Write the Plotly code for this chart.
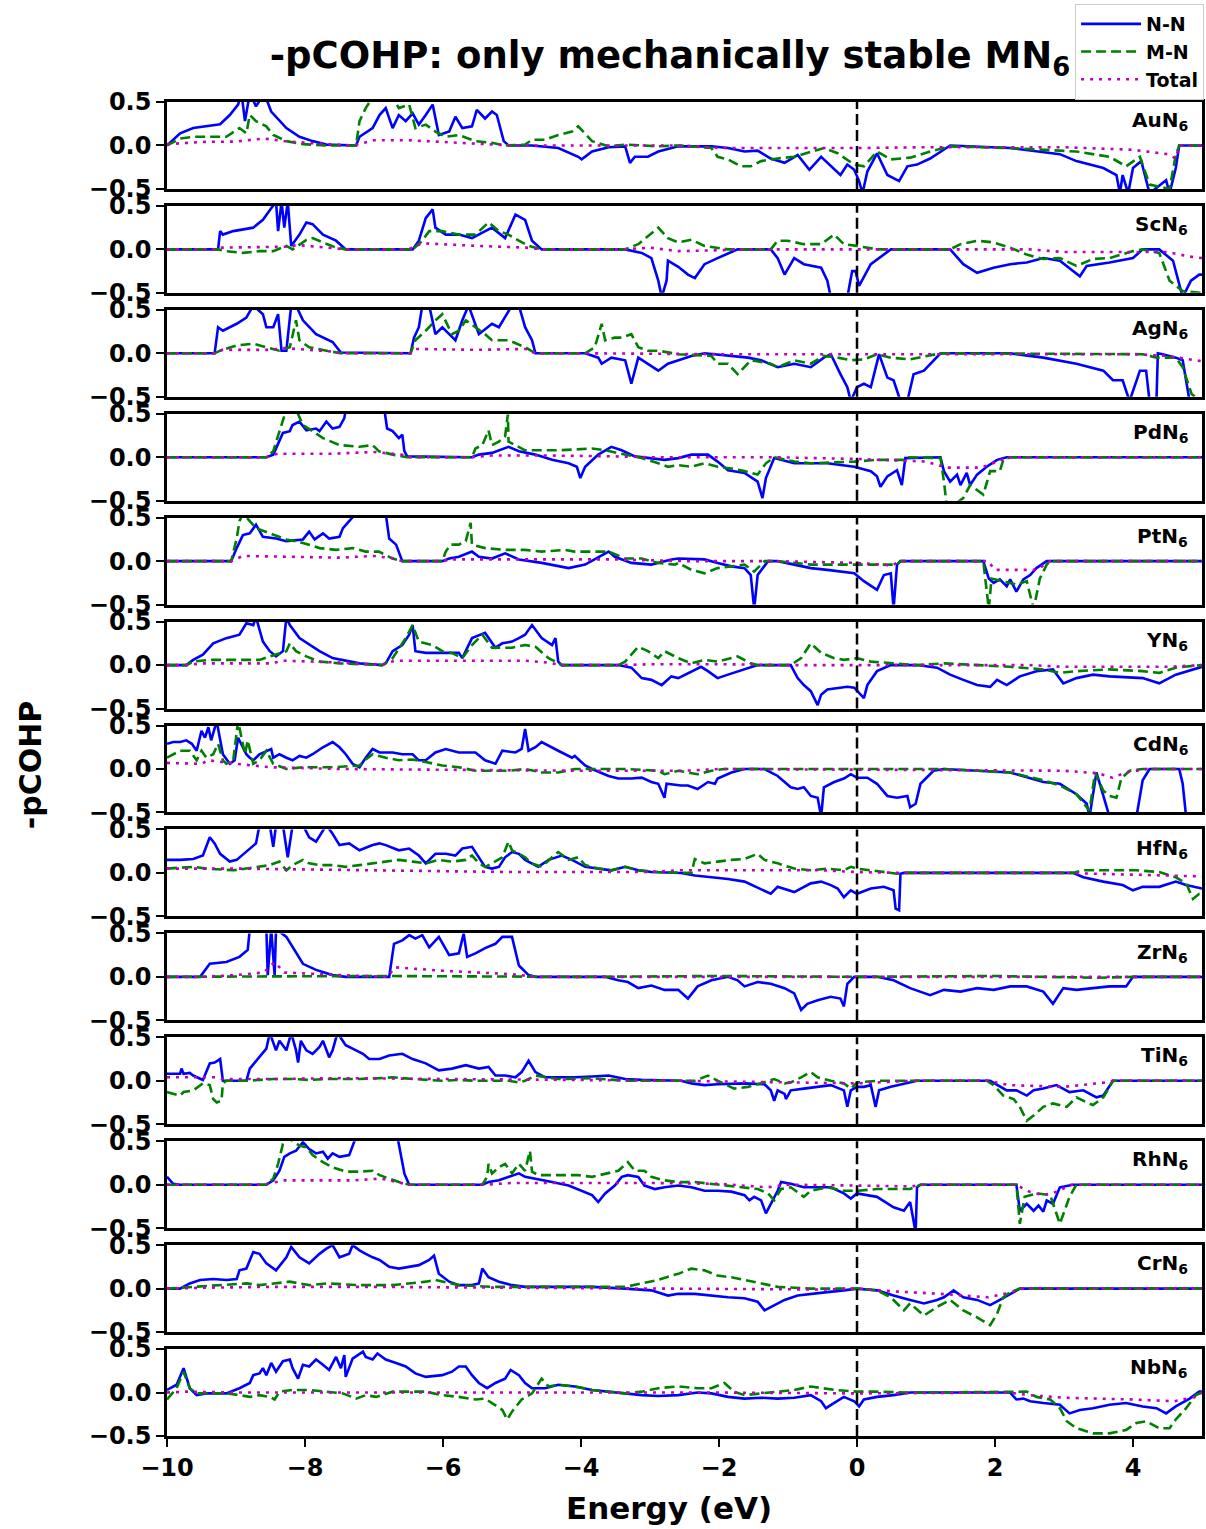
import plotly.graph_objects as go
from plotly.subplots import make_subplots

# ---------------- data: (energy eV, -pCOHP) pairs ----------------
AU_NN = [(-10,0),(-9.81,0.14),(-9.62,0.2),(-9.23,0.245),(-9.09,0.35),(-8.97,0.47),(-8.92,0.6),(-8.87,0.28),(-8.8,0.6),(-8.71,0.45),(-8.59,0.6),(-8.49,0.39),(-8.27,0.2),(-8.08,0.1),(-7.89,0.05),(-7.69,0.01),(-7.26,0),(-7.21,0.1),(-7.02,0.2),(-6.92,0.35),(-6.83,0.43),(-6.73,0.2),(-6.64,0.35),(-6.54,0.28),(-6.44,0.37),(-6.35,0.24),(-6.25,0.35),(-6.15,0.47),(-6.06,0.12),(-5.91,0.16),(-5.82,0.33),(-5.72,0.2),(-5.58,0.22),(-5.51,0.41),(-5.39,0.31),(-5.29,0.39),(-5.22,0.35),(-5.12,0.05),(-5.05,0),(-4.71,0),(-4.33,-0.03),(-4.04,-0.13),(-3.99,-0.16),(-3.84,-0.07),(-3.6,-0.02),(-3.36,-0.01),(-3.29,-0.2),(-3.22,-0.13),(-3.03,-0.13),(-2.88,-0.07),(-2.59,-0.01),(-2.11,-0.01),(-1.87,-0.03),(-1.63,-0.07),(-1.44,-0.06),(-1.25,-0.15),(-1.05,-0.2),(-0.86,-0.11),(-0.69,-0.28),(-0.52,-0.13),(-0.24,-0.34),(-0.14,-0.22),(-0.04,-0.28),(0.03,-0.41),(0.08,-0.55),(0.15,-0.3),(0.29,-0.09),(0.44,-0.34),(0.61,-0.41),(0.73,-0.24),(0.87,-0.22),(1.06,-0.15),(1.35,0),(2.22,-0.03),(2.94,-0.1),(3.18,-0.18),(3.57,-0.26),(3.76,-0.34),(3.81,-0.55),(3.85,-0.34),(3.93,-0.55),(4.0,-0.26),(4.12,-0.18),(4.24,-0.55),(4.48,-0.4),(4.53,-0.55),(4.62,-0.26),(4.67,0),(5,0)]
AU_MN = [(-10,0),(-9.81,0.08),(-9.62,0.1),(-9.14,0.1),(-8.95,0.2),(-8.85,0.14),(-8.8,0.35),(-8.71,0.28),(-8.56,0.22),(-8.46,0.12),(-8.27,0.05),(-8.03,0.015),(-7.69,0),(-7.26,0),(-7.21,0.28),(-7.12,0.43),(-7.02,0.55),(-6.73,0.55),(-6.64,0.43),(-6.49,0.47),(-6.4,0.2),(-6.25,0.24),(-6.11,0.16),(-5.96,0.1),(-5.77,0.12),(-5.53,0.05),(-5.29,0.03),(-5.1,0),(-4.81,0.01),(-4.71,0.065),(-4.52,0.065),(-4.33,0.12),(-4.13,0.16),(-4.04,0.22),(-3.84,0.05),(-3.6,-0.01),(-3.36,0.01),(-2.88,-0.01),(-2.59,0),(-2.11,-0.03),(-2.02,-0.13),(-1.87,-0.16),(-1.68,-0.24),(-1.54,-0.24),(-1.39,-0.18),(-1.15,-0.15),(-0.91,-0.13),(-0.67,-0.07),(-0.48,-0.03),(-0.28,-0.09),(-0.04,-0.22),(0.1,-0.24),(0.29,-0.07),(0.49,-0.16),(0.77,-0.14),(1.06,-0.07),(1.35,-0.01),(2.22,-0.03),(3.18,-0.07),(3.66,-0.13),(3.9,-0.24),(4.1,-0.13),(4.24,-0.45),(4.53,-0.5),(4.62,-0.11),(4.67,0),(5,0)]
AU_TOT = [(-10,0.015),(-9.5,0.04),(-9.0,0.045),(-8.6,0.08),(-8.3,0.05),(-7.8,0.02),(-7.3,0),(-7.0,0.06),(-6.5,0.06),(-6.0,0.04),(-5.5,0.02),(-5.0,0),(-2.5,0),(-2.0,-0.03),(-0.5,-0.03),(0,-0.03),(1.0,-0.02),(3.0,-0.02),(4.0,-0.05),(4.5,-0.1),(4.62,-0.15),(4.67,0),(5,0)]

SC_NN = [(-10,0),(-9.26,0),(-9.23,0.21),(-9.19,0.17),(-9.04,0.21),(-8.75,0.25),(-8.61,0.34),(-8.51,0.46),(-8.42,0.55),(-8.39,0.21),(-8.34,0.55),(-8.3,0.25),(-8.25,0.55),(-8.2,0.04),(-8.08,0.17),(-7.98,0.31),(-7.89,0.29),(-7.74,0.17),(-7.55,0.1),(-7.41,0),(-6.44,0),(-6.35,0.1),(-6.25,0.36),(-6.15,0.46),(-6.11,0.25),(-5.96,0.17),(-5.77,0.17),(-5.58,0.13),(-5.43,0.19),(-5.29,0.25),(-5.1,0.13),(-4.95,0.4),(-4.81,0.34),(-4.71,0.1),(-4.57,0),(-3.36,0),(-3.12,-0.04),(-2.98,-0.1),(-2.88,-0.36),(-2.83,-0.55),(-2.76,-0.36),(-2.74,-0.13),(-2.59,-0.2),(-2.45,-0.29),(-2.35,-0.33),(-2.21,-0.17),(-2.02,-0.1),(-1.73,0),(-1.25,0),(-1.15,-0.1),(-1.05,-0.29),(-0.91,-0.1),(-0.77,-0.17),(-0.52,-0.21),(-0.43,-0.36),(-0.38,-0.55),(-0.14,-0.55),(-0.07,-0.25),(-0.02,-0.25),(0.03,-0.42),(0.2,-0.17),(0.49,0),(1.35,0),(1.54,-0.17),(1.74,-0.27),(1.98,-0.21),(2.22,-0.17),(2.46,-0.15),(2.7,-0.1),(2.94,-0.13),(3.23,-0.31),(3.33,-0.19),(3.66,-0.15),(4.0,-0.1),(4.14,0),(4.38,0),(4.58,-0.13),(4.72,-0.55),(4.84,-0.36),(4.96,-0.29),(5,-0.29)]
SC_MN = [(-10,0),(-9.26,0),(-9.14,-0.02),(-8.9,-0.04),(-8.66,-0.02),(-8.46,-0.02),(-8.27,0.04),(-8.18,0),(-7.98,0.11),(-7.89,0.13),(-7.74,0.08),(-7.55,0.02),(-7.41,0),(-6.44,0),(-6.3,0.1),(-6.2,0.21),(-6.01,0.21),(-5.77,0.17),(-5.53,0.17),(-5.34,0.31),(-5.19,0.21),(-5.05,0.17),(-4.9,0.1),(-4.76,0.04),(-4.57,0),(-3.36,0),(-3.17,0.06),(-2.88,0.25),(-2.74,0.13),(-2.59,0.08),(-2.4,0.11),(-2.21,0.04),(-1.87,0),(-1.25,0),(-1.15,0.1),(-1.01,0.1),(-0.77,0.06),(-0.52,0.06),(-0.33,0.17),(-0.19,0.06),(0,0.04),(0.29,0),(1.35,0),(1.5,0.06),(1.74,0.1),(1.98,0.08),(2.22,0.02),(2.46,-0.06),(2.7,-0.11),(2.94,-0.1),(3.18,-0.19),(3.42,-0.11),(3.66,-0.1),(4.0,-0.02),(4.14,0),(4.38,-0.04),(4.53,-0.36),(4.62,-0.42),(4.72,-0.48),(5,-0.5)]
SC_TOT = [(-10,0),(-9.3,0),(-9.2,0.02),(-8.3,0.03),(-8.1,0.05),(-7.5,0.01),(-7.4,0),(-6.5,0),(-6.3,0.07),(-5.5,0.04),(-4.8,0.02),(-4.57,0),(-3.4,0),(-3.0,0.02),(-2.6,-0.02),(-2.0,-0.01),(-1.7,0),(2.5,0),(3.0,-0.03),(4.5,-0.03),(4.8,-0.08),(5,-0.1)]

AG_NN = [(-10,0),(-9.31,0),(-9.26,0.3),(-9.19,0.26),(-8.99,0.34),(-8.85,0.41),(-8.75,0.55),(-8.61,0.45),(-8.56,0.3),(-8.46,0.3),(-8.39,0.45),(-8.34,0.03),(-8.27,0.03),(-8.2,0.55),(-8.13,0.55),(-8.03,0.38),(-7.84,0.22),(-7.6,0.13),(-7.48,0.01),(-6.47,0),(-6.42,0.18),(-6.35,0.3),(-6.3,0.55),(-6.2,0.55),(-6.11,0.22),(-6.01,0.3),(-5.91,0.22),(-5.82,0.15),(-5.72,0.38),(-5.63,0.55),(-5.48,0.22),(-5.29,0.34),(-5.19,0.3),(-5.0,0.55),(-4.9,0.55),(-4.81,0.3),(-4.71,0.15),(-4.66,0),(-3.94,0),(-3.75,-0.05),(-3.7,-0.12),(-3.56,-0.05),(-3.36,-0.08),(-3.27,-0.35),(-3.17,-0.05),(-3.03,-0.12),(-2.88,-0.2),(-2.74,-0.12),(-2.59,-0.08),(-2.4,-0.03),(-2.21,0),(-1.87,-0.03),(-1.58,-0.05),(-1.39,-0.08),(-1.15,-0.16),(-0.91,-0.12),(-0.67,-0.16),(-0.48,-0.05),(-0.38,-0.01),(-0.24,-0.24),(-0.14,-0.39),(-0.09,-0.55),(0,-0.39),(0.1,-0.35),(0.2,-0.39),(0.32,-0.01),(0.44,-0.28),(0.53,-0.31),(0.63,-0.55),(0.73,-0.55),(0.82,-0.24),(0.97,-0.2),(1.21,0),(2.22,0),(2.7,-0.05),(3.18,-0.12),(3.57,-0.2),(3.71,-0.31),(3.85,-0.31),(3.95,-0.55),(4.1,-0.2),(4.19,-0.2),(4.24,-0.55),(4.34,-0.55),(4.36,0),(4.43,-0.01),(4.62,-0.05),(4.72,-0.08),(4.82,-0.55),(5,-0.55)]
AG_MN = [(-10,0),(-9.31,0),(-9.23,0.03),(-8.99,0.09),(-8.75,0.11),(-8.56,0.07),(-8.37,0.03),(-8.22,0.07),(-8.13,0.38),(-8.08,0.15),(-7.94,0.07),(-7.69,0.03),(-7.48,0),(-6.47,0),(-6.4,0.15),(-6.25,0.26),(-6.11,0.38),(-6.01,0.45),(-5.87,0.22),(-5.77,0.26),(-5.67,0.38),(-5.53,0.3),(-5.39,0.22),(-5.29,0.15),(-5.05,0.15),(-4.81,0.07),(-4.66,0),(-3.94,0),(-3.8,0.07),(-3.7,0.34),(-3.65,0.15),(-3.51,0.18),(-3.41,0.18),(-3.27,0.22),(-3.17,0.07),(-3.03,0.03),(-2.88,0.03),(-2.59,-0.01),(-2.11,-0.03),(-2.02,-0.12),(-1.87,-0.12),(-1.73,-0.24),(-1.63,-0.16),(-1.54,-0.08),(-1.25,-0.12),(-1.15,-0.16),(-0.91,-0.08),(-0.67,-0.12),(-0.48,-0.03),(-0.28,-0.05),(-0.09,-0.08),(0.1,-0.07),(0.29,-0.01),(0.49,-0.05),(0.77,-0.07),(1.21,0),(4.14,-0.01),(4.34,-0.05),(4.62,-0.05),(4.72,-0.16),(4.85,-0.47),(5,-0.55)]
AG_TOT = [(-10,0),(-9.3,0),(-9.2,0.04),(-8.5,0.04),(-8.3,0.06),(-7.6,0.02),(-7.48,0),(-6.47,0),(-6.4,0.05),(-5.5,0.04),(-4.8,0.05),(-4.66,0),(-3.9,0),(-2.0,-0.01),(4.0,-0.01),(4.5,-0.03),(4.9,-0.08),(5,-0.09)]

PD_NN = [(-10,0),(-8.56,0),(-8.46,0.03),(-8.32,0.28),(-8.22,0.3),(-8.18,0.37),(-8.08,0.41),(-7.98,0.31),(-7.84,0.33),(-7.79,0.3),(-7.69,0.41),(-7.6,0.33),(-7.5,0.35),(-7.43,0.45),(-7.41,0.55),(-6.85,0.55),(-6.81,0.33),(-6.73,0.3),(-6.64,0.22),(-6.59,0.26),(-6.56,0.07),(-6.52,0.01),(-5.58,0),(-5.48,0.03),(-5.29,0.05),(-5.05,0.12),(-4.9,0.07),(-4.66,0.03),(-4.42,-0.03),(-4.18,-0.07),(-4.06,-0.11),(-4.01,-0.24),(-3.94,-0.11),(-3.75,0.03),(-3.56,0.12),(-3.41,0.08),(-3.22,0.01),(-3.03,-0.01),(-2.79,-0.03),(-2.59,-0.01),(-2.4,0.03),(-2.16,0.03),(-2.02,-0.05),(-1.87,-0.15),(-1.63,-0.18),(-1.44,-0.28),(-1.37,-0.47),(-1.32,-0.24),(-1.2,-0.01),(-0.91,-0.07),(-0.43,-0.07),(-0.04,-0.11),(0.2,-0.16),(0.29,-0.22),(0.34,-0.34),(0.44,-0.22),(0.58,-0.15),(0.65,-0.32),(0.7,-0.01),(1.21,0),(1.26,-0.16),(1.35,-0.28),(1.45,-0.2),(1.5,-0.32),(1.59,-0.18),(1.64,-0.32),(1.74,-0.2),(1.88,-0.11),(2.03,-0.03),(2.17,0),(5,0)]
PD_MN = [(-10,0),(-8.56,0),(-8.46,0.07),(-8.39,0.26),(-8.32,0.45),(-8.27,0.55),(-8.13,0.55),(-8.03,0.37),(-7.89,0.3),(-7.74,0.22),(-7.5,0.14),(-7.21,0.12),(-7.02,0.14),(-6.93,0.07),(-6.73,0.03),(-6.52,0),(-5.58,0),(-5.53,0.1),(-5.43,0.14),(-5.34,0.31),(-5.29,0.14),(-5.19,0.18),(-5.1,0.24),(-5.06,0.49),(-5.05,0.18),(-4.95,0.14),(-4.81,0.08),(-4.33,0.08),(-3.84,0.1),(-3.65,0.08),(-3.36,0.03),(-3.12,-0.01),(-2.88,-0.07),(-2.74,-0.11),(-2.59,-0.09),(-2.4,-0.11),(-2.21,-0.07),(-2.02,-0.11),(-1.82,-0.13),(-1.63,-0.16),(-1.44,-0.2),(-1.32,-0.07),(-1.2,0),(-0.91,-0.05),(-0.67,-0.07),(-0.04,-0.05),(0.29,-0.03),(0.68,-0.03),(0.73,0),(1.21,-0.01),(1.26,-0.28),(1.3,-0.55),(1.4,-0.55),(1.54,-0.47),(1.64,-0.32),(1.83,-0.43),(1.93,-0.16),(2.07,-0.16),(2.12,-0.03),(2.22,0),(5,0)]
PD_TOT = [(-10,0),(-8.56,0),(-8.4,0.04),(-7.6,0.04),(-7.0,0.06),(-6.6,0.03),(-6.5,0),(-5.6,0),(-5.3,0.02),(-4.5,0.02),(-3.5,0.01),(-3.0,0),(-1.2,0),(0,-0.02),(1.0,-0.05),(1.3,-0.12),(1.8,-0.12),(2.2,0),(5,0)]

PT_NN = [(-10,0),(-9.07,0),(-8.99,0.15),(-8.9,0.3),(-8.8,0.32),(-8.71,0.42),(-8.61,0.28),(-8.42,0.26),(-8.27,0.23),(-8.03,0.25),(-7.94,0.34),(-7.86,0.25),(-7.74,0.32),(-7.65,0.26),(-7.5,0.28),(-7.45,0.38),(-7.36,0.46),(-7.26,0.55),(-6.83,0.55),(-6.78,0.26),(-6.68,0.19),(-6.59,0),(-6.01,0),(-5.91,0.03),(-5.77,0.05),(-5.58,0.11),(-5.48,0.05),(-5.29,0.03),(-5.1,0.09),(-4.9,0.02),(-4.57,-0.02),(-4.18,-0.08),(-3.94,-0.04),(-3.6,0.11),(-3.51,0.05),(-3.27,-0.02),(-2.98,-0.04),(-2.69,0.02),(-2.59,0.03),(-2.21,0.02),(-2.02,-0.02),(-1.82,-0.06),(-1.63,-0.08),(-1.54,-0.16),(-1.49,-0.55),(-1.44,-0.16),(-1.29,0),(-1.15,0),(-0.91,-0.04),(-0.67,-0.08),(-0.43,-0.1),(-0.04,-0.14),(0.1,-0.23),(0.29,-0.33),(0.39,-0.16),(0.49,-0.14),(0.53,-0.55),(0.58,-0.04),(0.63,0),(1.83,0),(1.91,-0.2),(1.98,-0.25),(2.07,-0.21),(2.17,-0.29),(2.22,-0.21),(2.31,-0.35),(2.41,-0.21),(2.51,-0.16),(2.6,-0.08),(2.75,0),(5,0)]
PT_MN = [(-10,0),(-9.07,0),(-8.99,0.26),(-8.95,0.46),(-8.9,0.55),(-8.71,0.38),(-8.51,0.32),(-8.27,0.25),(-8.03,0.21),(-7.79,0.15),(-7.55,0.13),(-7.31,0.15),(-7.12,0.11),(-6.93,0.11),(-6.73,0.03),(-6.59,0),(-6.01,0),(-5.96,0.11),(-5.89,0.19),(-5.77,0.19),(-5.67,0.23),(-5.6,0.44),(-5.58,0.19),(-5.39,0.15),(-5.1,0.13),(-4.81,0.13),(-4.57,0.11),(-4.23,0.13),(-4.09,0.11),(-3.84,0.11),(-3.6,0.11),(-3.36,0.03),(-3.12,0.03),(-2.88,-0.02),(-2.64,-0.04),(-2.59,-0.02),(-2.4,-0.1),(-2.21,-0.14),(-2.02,-0.08),(-1.82,-0.06),(-1.63,-0.04),(-1.49,-0.12),(-1.34,0),(-1.15,0),(-0.67,-0.04),(0.58,-0.04),(0.63,0),(1.83,0),(1.91,-0.55),(1.95,-0.2),(2.12,-0.23),(2.31,-0.27),(2.46,-0.23),(2.56,-0.55),(2.65,-0.2),(2.75,-0.04),(2.8,0),(5,0)]
PT_TOT = [(-10,0),(-9.07,0),(-8.9,0.06),(-8.0,0.05),(-7.5,0.04),(-7.0,0.06),(-6.7,0.03),(-6.59,0),(-6.0,0),(-5.9,0.02),(-3.5,0.02),(-2.5,0),(-1.2,0),(0,-0.02),(0.5,-0.05),(0.63,0),(1.9,0),(2.0,-0.1),(2.6,-0.1),(2.8,0),(5,0)]

Y_NN = [(-10,0),(-9.72,0),(-9.62,0.06),(-9.48,0.12),(-9.33,0.25),(-9.14,0.31),(-8.95,0.35),(-8.85,0.48),(-8.75,0.46),(-8.71,0.55),(-8.61,0.27),(-8.51,0.16),(-8.42,0.1),(-8.32,0.16),(-8.27,0.55),(-8.22,0.46),(-8.08,0.31),(-7.79,0.16),(-7.6,0.08),(-7.21,0.02),(-6.88,0),(-6.83,0.02),(-6.73,0.16),(-6.59,0.23),(-6.49,0.35),(-6.44,0.46),(-6.4,0.16),(-6.25,0.14),(-5.96,0.14),(-5.77,0.14),(-5.72,0.08),(-5.58,0.31),(-5.39,0.37),(-5.24,0.2),(-5.14,0.25),(-5.0,0.27),(-4.9,0.31),(-4.81,0.35),(-4.71,0.46),(-4.57,0.31),(-4.42,0.23),(-4.37,0.31),(-4.33,0.04),(-4.28,0),(-3.46,0),(-3.27,-0.03),(-3.12,-0.15),(-2.98,-0.17),(-2.83,-0.23),(-2.69,-0.13),(-2.59,-0.15),(-2.4,-0.07),(-2.26,-0.02),(-2.16,-0.07),(-2.02,-0.15),(-1.87,-0.11),(-1.63,-0.05),(-1.44,0),(-0.96,0),(-0.86,-0.15),(-0.77,-0.23),(-0.67,-0.3),(-0.57,-0.46),(-0.52,-0.34),(-0.43,-0.28),(-0.28,-0.26),(-0.14,-0.25),(-0.04,-0.26),(0.1,-0.38),(0.15,-0.23),(0.29,-0.07),(0.49,0),(0.87,0),(1.16,-0.03),(1.35,-0.11),(1.54,-0.17),(1.74,-0.23),(1.93,-0.25),(2.03,-0.17),(2.17,-0.23),(2.36,-0.13),(2.6,-0.07),(2.84,-0.05),(2.99,-0.21),(3.18,-0.15),(3.42,-0.11),(3.66,-0.13),(4.14,-0.15),(4.38,-0.21),(4.62,-0.11),(4.96,-0.03),(5,-0.02)]
Y_MN = [(-10,0),(-9.72,0),(-9.62,0.04),(-9.38,0.06),(-8.66,0.06),(-8.27,0.16),(-8.22,0.25),(-8.13,0.16),(-7.98,0.1),(-7.79,0.04),(-7.5,0.02),(-7.21,0.01),(-6.88,0),(-6.73,0.08),(-6.54,0.31),(-6.44,0.46),(-6.35,0.27),(-6.15,0.23),(-6.01,0.16),(-5.87,0.14),(-5.72,0.08),(-5.58,0.23),(-5.43,0.35),(-5.29,0.2),(-5.0,0.2),(-4.81,0.23),(-4.66,0.21),(-4.47,0.08),(-4.33,0.02),(-4.28,0),(-3.46,0),(-3.36,0.04),(-3.17,0.21),(-3.03,0.16),(-2.88,0.08),(-2.79,0.16),(-2.59,0.08),(-2.4,0.02),(-2.21,0.06),(-2.02,0.04),(-1.73,0.1),(-1.54,0.02),(-1.44,0),(-0.96,0),(-0.81,0.08),(-0.67,0.25),(-0.52,0.14),(-0.33,0.08),(-0.19,0.06),(0,0.08),(0.2,0.04),(0.49,0.02),(0.87,0),(1.26,0.02),(1.74,0),(2.22,-0.02),(2.7,-0.05),(2.94,-0.09),(3.18,-0.07),(3.66,-0.05),(4.14,-0.07),(4.38,-0.09),(4.62,-0.03),(5,0)]
Y_TOT = [(-10,0),(-9.7,0),(-9.5,0.02),(-8.5,0.02),(-8.3,0.05),(-7.5,0.03),(-6.9,0),(-6.7,0.05),(-4.8,0.05),(-4.5,0.03),(-4.28,0),(-3.4,0),(-3.0,0.01),(-2.0,0.01),(-1.0,0),(2.5,0),(3.0,-0.02),(4.5,-0.02),(5,0)]

CD_NN = [(-10,0.29),(-9.91,0.31),(-9.81,0.31),(-9.72,0.33),(-9.64,0.29),(-9.57,0.21),(-9.5,0.44),(-9.45,0.36),(-9.4,0.48),(-9.36,0.33),(-9.28,0.55),(-9.23,0.36),(-9.19,0.17),(-9.09,0.06),(-9.02,0.1),(-8.97,0.36),(-8.9,0.25),(-8.85,0.17),(-8.8,0.13),(-8.75,0.1),(-8.66,0.17),(-8.56,0.21),(-8.49,0.23),(-8.46,0.13),(-8.37,0.17),(-8.27,0.13),(-8.18,0.1),(-8.08,0.15),(-7.98,0.13),(-7.89,0.17),(-7.74,0.25),(-7.6,0.31),(-7.5,0.25),(-7.41,0.17),(-7.31,0.06),(-7.21,0.02),(-7.12,0.13),(-7.02,0.23),(-6.92,0.19),(-6.73,0.19),(-6.59,0.17),(-6.44,0.17),(-6.35,0.1),(-6.25,0.1),(-6.11,0.19),(-5.96,0.23),(-5.77,0.19),(-5.53,0.19),(-5.39,0.1),(-5.24,0.06),(-5.14,0.21),(-4.95,0.19),(-4.86,0.23),(-4.81,0.46),(-4.76,0.21),(-4.66,0.25),(-4.57,0.31),(-4.33,0.21),(-4.13,0.13),(-4.09,0.15),(-3.94,0.04),(-3.84,0),(-3.6,-0.08),(-3.46,-0.11),(-3.27,-0.11),(-3.12,-0.1),(-2.98,-0.15),(-2.88,-0.17),(-2.79,-0.33),(-2.76,-0.17),(-2.55,-0.19),(-2.45,-0.19),(-2.31,-0.23),(-2.16,-0.15),(-2.06,-0.17),(-2.02,-0.11),(-1.82,-0.04),(-1.63,0),(-1.34,0),(-1.15,-0.08),(-0.96,-0.21),(-0.86,-0.23),(-0.77,-0.21),(-0.67,-0.31),(-0.57,-0.33),(-0.52,-0.55),(-0.48,-0.21),(-0.33,-0.15),(-0.19,-0.11),(-0.09,-0.06),(0,-0.1),(0.15,-0.1),(0.29,-0.17),(0.44,-0.31),(0.58,-0.33),(0.73,-0.31),(0.77,-0.44),(0.85,-0.4),(0.92,-0.17),(1.11,-0.02),(1.26,0),(2.22,-0.04),(2.7,-0.15),(2.94,-0.17),(3.18,-0.29),(3.33,-0.4),(3.37,-0.55),(3.47,-0.04),(3.61,-0.4),(3.66,-0.55),(4.05,-0.55),(4.14,-0.13),(4.24,0),(4.67,0),(4.72,-0.17),(4.77,-0.55),(5,-0.55)]
CD_MN = [(-10,0.13),(-9.81,0.21),(-9.67,0.21),(-9.57,0.1),(-9.5,0.21),(-9.43,0.13),(-9.33,0.17),(-9.26,0.29),(-9.19,0.1),(-9.14,0.06),(-9.04,0.1),(-8.97,0.55),(-8.92,0.36),(-8.87,0.17),(-8.83,0.33),(-8.75,0.06),(-8.66,0.1),(-8.56,0.21),(-8.46,0.06),(-8.27,0),(-8.03,0.02),(-7.6,0.02),(-7.21,0.04),(-7.12,0.11),(-7.02,0.17),(-6.83,0.13),(-6.64,0.1),(-6.44,0.11),(-6.25,0.08),(-6.01,0.04),(-5.77,0.02),(-5.53,-0.02),(-5.05,-0.02),(-4.81,0),(-4.57,-0.04),(-4.33,-0.04),(-4.09,0),(-3.36,0),(-2.88,-0.02),(-2.79,-0.06),(-2.59,-0.02),(-2.31,-0.06),(-2.11,-0.02),(-1.92,0),(0,0),(1.26,0),(2.22,-0.04),(2.7,-0.13),(2.94,-0.19),(3.18,-0.29),(3.37,-0.48),(3.45,-0.04),(3.57,-0.25),(3.66,-0.31),(3.76,-0.33),(3.83,-0.11),(3.95,-0.02),(4.14,0),(5,0)]
CD_TOT = [(-10,0.07),(-9.5,0.06),(-9.4,0.1),(-9.0,0.06),(-8.5,0.02),(-7.5,0),(-4.0,-0.02),(-2.5,-0.02),(-2.0,0),(3.0,-0.02),(3.5,-0.05),(3.7,-0.1),(3.9,-0.04),(4.2,0),(5,0)]

HF_NN = [(-10,0.15),(-9.81,0.15),(-9.62,0.16),(-9.48,0.2),(-9.38,0.41),(-9.31,0.34),(-9.23,0.22),(-9.09,0.13),(-8.99,0.15),(-8.85,0.24),(-8.71,0.34),(-8.66,0.55),(-8.51,0.55),(-8.46,0.3),(-8.42,0.55),(-8.32,0.55),(-8.25,0.18),(-8.18,0.55),(-8.03,0.55),(-7.94,0.41),(-7.84,0.36),(-7.69,0.55),(-7.6,0.45),(-7.5,0.32),(-7.36,0.34),(-7.21,0.26),(-7.02,0.32),(-6.92,0.34),(-6.83,0.32),(-6.64,0.26),(-6.49,0.28),(-6.35,0.2),(-6.25,0.11),(-6.11,0.22),(-5.96,0.22),(-5.82,0.2),(-5.72,0.28),(-5.58,0.3),(-5.39,0.07),(-5.29,0.05),(-5.19,0.07),(-5.1,0.18),(-5.0,0.24),(-4.9,0.22),(-4.81,0.15),(-4.62,0.07),(-4.47,0.15),(-4.28,0.2),(-4.13,0.15),(-3.94,0.07),(-3.75,0.05),(-3.56,0.03),(-3.36,0.07),(-3.17,0.03),(-2.98,0.01),(-2.55,0),(-2.35,-0.03),(-2.11,-0.05),(-1.87,-0.07),(-1.63,-0.1),(-1.34,-0.2),(-1.25,-0.24),(-1.15,-0.16),(-0.91,-0.22),(-0.67,-0.12),(-0.52,-0.1),(-0.38,-0.14),(-0.28,-0.18),(-0.19,-0.28),(-0.09,-0.2),(0,-0.24),(0.2,-0.18),(0.39,-0.16),(0.53,-0.2),(0.56,-0.41),(0.61,-0.43),(0.63,-0.01),(0.68,0),(3.13,0),(3.28,-0.05),(3.57,-0.1),(3.85,-0.14),(4.0,-0.2),(4.14,-0.16),(4.38,-0.16),(4.62,-0.1),(4.77,-0.14),(4.96,-0.18),(5,-0.18)]
HF_MN = [(-10,0.05),(-9.62,0.07),(-9.43,0.05),(-9.04,0.03),(-8.85,0.05),(-8.66,0.07),(-8.51,0.09),(-8.37,0.13),(-8.27,0.03),(-8.18,0.09),(-8.03,0.15),(-7.94,0.11),(-7.79,0.09),(-7.6,0.09),(-7.41,0.07),(-7.21,0.09),(-7.02,0.11),(-6.83,0.13),(-6.64,0.15),(-6.44,0.13),(-6.25,0.11),(-6.06,0.15),(-5.87,0.13),(-5.67,0.15),(-5.58,0.2),(-5.48,0.11),(-5.39,0.07),(-5.29,0.11),(-5.14,0.18),(-5.05,0.36),(-5.0,0.26),(-4.9,0.22),(-4.81,0.18),(-4.71,0.11),(-4.57,0.07),(-4.42,0.18),(-4.33,0.24),(-4.18,0.15),(-4.04,0.18),(-3.94,0.09),(-3.75,0.05),(-3.56,0.03),(-3.36,0.07),(-3.17,0.03),(-2.88,0.01),(-2.55,0),(-2.4,0),(-2.35,0.16),(-2.21,0.11),(-2.02,0.13),(-1.82,0.15),(-1.63,0.16),(-1.44,0.22),(-1.34,0.15),(-1.15,0.11),(-0.91,0.05),(-0.67,0.03),(-0.43,0.05),(-0.19,0.03),(-0.09,0.07),(0,0.05),(0.2,0.03),(0.39,0.01),(0.58,-0.01),(0.68,0),(3.13,0),(3.28,0.03),(4.05,0.03),(4.38,0.01),(4.62,-0.05),(4.77,-0.12),(4.87,-0.3),(4.96,-0.24),(5,-0.24)]
HF_TOT = [(-10,0.05),(-9.0,0.05),(-8.0,0.04),(-7.0,0.03),(-6.0,0.02),(-5.0,0.01),(-3.0,0.01),(-2.6,0.03),(-0.5,0.03),(0,0.01),(0.68,0),(3.0,0),(4.0,-0.02),(5,-0.04)]

ZR_NN = [(-10,0),(-9.52,0),(-9.38,0.15),(-9.14,0.17),(-8.95,0.23),(-8.83,0.31),(-8.8,0.55),(-8.56,0.55),(-8.54,0.02),(-8.49,0.55),(-8.44,0.02),(-8.42,0.55),(-8.27,0.46),(-8.18,0.34),(-8.03,0.15),(-7.84,0.08),(-7.6,0.02),(-7.41,0),(-6.78,0),(-6.71,0.38),(-6.59,0.42),(-6.49,0.48),(-6.4,0.44),(-6.3,0.48),(-6.2,0.34),(-6.06,0.46),(-5.91,0.25),(-5.77,0.27),(-5.7,0.5),(-5.65,0.23),(-5.53,0.27),(-5.39,0.33),(-5.24,0.38),(-5.14,0.46),(-5.0,0.46),(-4.9,0.13),(-4.76,0.02),(-4.66,0),(-3.65,0),(-3.46,-0.04),(-3.32,-0.06),(-3.17,-0.13),(-2.98,-0.1),(-2.79,-0.15),(-2.59,-0.15),(-2.45,-0.25),(-2.31,-0.11),(-2.11,-0.04),(-1.87,0),(-1.73,-0.04),(-1.63,-0.11),(-1.44,-0.06),(-1.25,-0.08),(-1.05,-0.13),(-0.91,-0.19),(-0.81,-0.38),(-0.72,-0.31),(-0.57,-0.27),(-0.38,-0.23),(-0.24,-0.25),(-0.19,-0.34),(-0.14,-0.08),(-0.04,0),(0.29,0),(0.53,-0.04),(0.77,-0.13),(1.06,-0.21),(1.26,-0.15),(1.5,-0.17),(1.74,-0.13),(1.98,-0.15),(2.22,-0.11),(2.46,-0.11),(2.7,-0.17),(2.84,-0.31),(2.99,-0.13),(3.18,-0.15),(3.42,-0.13),(3.66,-0.11),(3.9,-0.11),(4.0,0),(5,0)]
ZR_MN = [(-10,0),(-7,0.01),(-4,0),(-2,0.01),(0,0),(2,0.01),(3.5,-0.01),(4,0),(5,0)]
ZR_TOT = [(-10,0),(-9.5,0),(-9.0,0.02),(-8.6,0.05),(-8.44,0.17),(-8.3,0.05),(-7.5,0.02),(-6.8,0),(-6.7,0.11),(-6.0,0.07),(-5.0,0.03),(-4.66,0),(5,0)]

TI_NN = [(-10,0.08),(-9.81,0.08),(-9.79,0.14),(-9.76,0.08),(-9.67,0.09),(-9.62,0.06),(-9.48,0.01),(-9.38,0.2),(-9.31,0.21),(-9.23,0.25),(-9.19,0),(-8.85,0),(-8.8,0.14),(-8.71,0.23),(-8.56,0.37),(-8.51,0.55),(-8.42,0.35),(-8.37,0.46),(-8.27,0.35),(-8.2,0.55),(-8.13,0.35),(-8.1,0.21),(-8.06,0.46),(-7.98,0.35),(-7.89,0.31),(-7.79,0.39),(-7.74,0.46),(-7.65,0.27),(-7.6,0.35),(-7.53,0.55),(-7.41,0.41),(-7.26,0.35),(-7.16,0.31),(-7.07,0.25),(-6.92,0.25),(-6.78,0.29),(-6.59,0.31),(-6.44,0.25),(-6.25,0.2),(-6.06,0.12),(-5.87,0.14),(-5.67,0.18),(-5.48,0.14),(-5.34,0.16),(-5.24,0.06),(-5.1,0.06),(-4.95,0.04),(-4.86,0.1),(-4.76,0.23),(-4.66,0.1),(-4.52,0.04),(-4.33,0.04),(-4.09,0.04),(-3.84,0.05),(-3.6,0.06),(-3.36,0.02),(-3.12,0.01),(-2.55,0),(-2.4,-0.03),(-2.21,-0.05),(-2.02,-0.04),(-1.63,-0.03),(-1.34,-0.04),(-1.25,-0.11),(-1.2,-0.23),(-1.15,-0.11),(-1.05,-0.15),(-1.03,-0.21),(-0.96,-0.11),(-0.77,-0.09),(-0.57,-0.07),(-0.38,-0.05),(-0.19,-0.11),(-0.14,-0.3),(-0.09,-0.11),(0,-0.07),(0.1,-0.07),(0.2,-0.05),(0.27,-0.3),(0.32,-0.11),(0.49,-0.07),(0.77,-0.02),(0.87,0),(1.93,0),(2.03,-0.05),(2.17,-0.11),(2.31,-0.11),(2.46,-0.17),(2.56,-0.11),(2.7,-0.09),(2.89,-0.05),(3.08,-0.13),(3.28,-0.11),(3.47,-0.19),(3.57,-0.17),(3.71,0),(5,0)]
TI_MN = [(-10,-0.13),(-9.91,-0.15),(-9.81,-0.17),(-9.76,-0.13),(-9.62,-0.11),(-9.48,-0.03),(-9.38,-0.05),(-9.33,-0.21),(-9.28,-0.25),(-9.21,-0.23),(-9.19,-0.03),(-9.14,0),(-8.85,0),(-8.66,0.01),(-8.46,0.02),(-8.18,0.02),(-7.94,0.01),(-7.69,0.02),(-7.41,0.02),(-7.21,0.02),(-6.92,0.03),(-6.73,0.04),(-6.44,0.02),(-6.25,0.01),(-6.01,0),(-5.77,0.01),(-5.53,0),(-5.29,0),(-5.05,0),(-4.9,-0.02),(-4.81,0),(-4.66,0.06),(-4.52,0.04),(-4.33,0.02),(-3.84,0.03),(-3.36,0),(-2.88,0),(-2.59,0),(-2.35,0),(-2.16,0.06),(-2.02,0),(-1.78,-0.09),(-1.58,-0.07),(-1.39,-0.03),(-1.29,0),(-1.2,0.02),(-1.05,-0.03),(-0.96,-0.02),(-0.81,0.04),(-0.67,0.1),(-0.57,0.04),(-0.38,0),(-0.19,-0.03),(-0.09,-0.09),(0,-0.02),(0.29,0),(0.87,0),(1.88,0),(1.98,-0.05),(2.12,-0.17),(2.27,-0.21),(2.36,-0.3),(2.46,-0.46),(2.56,-0.4),(2.7,-0.3),(2.84,-0.26),(3.04,-0.3),(3.18,-0.19),(3.33,-0.25),(3.42,-0.28),(3.57,-0.19),(3.71,0),(5,0)]
TI_TOT = [(-10,0.04),(-9.3,0.04),(-9.2,0.02),(-8.5,0.02),(-7.5,0.03),(-6.0,0.02),(-4.5,0.01),(-2.6,0),(0,-0.03),(0.8,0),(1.9,0),(2.2,-0.05),(3.0,-0.07),(3.6,-0.02),(3.7,0),(5,0)]

RH_NN = [(-10,0.09),(-9.91,0.01),(-9.81,0),(-8.56,0),(-8.46,0.05),(-8.37,0.16),(-8.3,0.32),(-8.22,0.36),(-8.13,0.39),(-8.03,0.49),(-7.94,0.41),(-7.84,0.36),(-7.74,0.38),(-7.67,0.3),(-7.6,0.36),(-7.5,0.32),(-7.36,0.34),(-7.29,0.47),(-7.26,0.55),(-6.66,0.55),(-6.61,0.32),(-6.56,0.13),(-6.54,0.09),(-6.49,0),(-5.43,0),(-5.34,0.03),(-5.19,0.05),(-5.05,0.09),(-4.9,0.13),(-4.81,0.09),(-4.66,0.07),(-4.42,0.03),(-4.18,-0.01),(-3.99,-0.07),(-3.84,-0.12),(-3.75,-0.2),(-3.65,-0.1),(-3.51,-0.01),(-3.41,0.09),(-3.32,0.11),(-3.17,0.09),(-3.08,-0.01),(-2.93,-0.05),(-2.79,-0.03),(-2.59,-0.01),(-2.4,-0.03),(-2.21,-0.07),(-2.02,-0.07),(-1.82,-0.08),(-1.63,-0.12),(-1.56,-0.18),(-1.49,-0.14),(-1.39,-0.18),(-1.32,-0.33),(-1.25,-0.22),(-1.15,-0.07),(-1.1,0.03),(-0.96,0.01),(-0.77,-0.03),(-0.38,-0.03),(-0.19,-0.1),(-0.09,-0.16),(0,-0.1),(0.29,-0.14),(0.53,-0.26),(0.68,-0.3),(0.77,-0.2),(0.85,-0.55),(0.87,-0.03),(0.92,0),(2.31,0),(2.36,-0.3),(2.46,-0.22),(2.56,-0.3),(2.63,-0.24),(2.7,-0.31),(2.75,-0.18),(2.84,-0.22),(2.94,-0.03),(3.13,0),(5,0)]
RH_MN = [(-10,0),(-8.56,0),(-8.46,0.07),(-8.39,0.24),(-8.32,0.47),(-8.27,0.55),(-8.08,0.45),(-7.98,0.43),(-7.89,0.34),(-7.74,0.26),(-7.6,0.2),(-7.41,0.15),(-7.21,0.15),(-7.02,0.16),(-6.92,0.11),(-6.78,0.07),(-6.64,0.03),(-6.49,0),(-5.43,0),(-5.36,0.09),(-5.34,0.24),(-5.29,0.13),(-5.19,0.2),(-5.1,0.24),(-5.0,0.13),(-4.9,0.24),(-4.81,0.16),(-4.74,0.39),(-4.71,0.15),(-4.62,0.11),(-4.33,0.11),(-4.04,0.11),(-3.84,0.09),(-3.6,0.13),(-3.46,0.16),(-3.32,0.26),(-3.22,0.16),(-3.08,0.16),(-2.98,0.09),(-2.79,0.05),(-2.59,0.03),(-2.35,0.03),(-2.11,0.01),(-1.87,-0.01),(-1.63,-0.03),(-1.44,-0.05),(-1.29,-0.1),(-1.2,-0.18),(-1.1,-0.05),(-0.96,-0.03),(-0.77,-0.14),(-0.67,-0.07),(-0.43,-0.03),(-0.19,-0.07),(0,-0.07),(0.29,-0.05),(0.77,-0.05),(0.92,0),(2.31,0),(2.36,-0.45),(2.43,-0.14),(2.6,-0.1),(2.8,-0.12),(2.94,-0.45),(3.08,-0.14),(3.18,0),(5,0)]
RH_TOT = [(-10,0),(-8.6,0),(-8.3,0.05),(-7.3,0.05),(-6.9,0.07),(-6.49,0),(-5.4,0),(-5.0,0.02),(-3.0,0.02),(-2.0,0.01),(-1.3,-0.03),(-1.0,0),(0,-0.01),(0.8,-0.02),(0.92,0),(2.3,0),(2.5,-0.08),(2.7,-0.12),(2.9,-0.08),(3.1,0),(5,0)]

CR_NN = [(-10,0),(-9.81,0),(-9.67,0.06),(-9.52,0.1),(-9.33,0.11),(-9.14,0.1),(-8.99,0.11),(-8.95,0.21),(-8.85,0.23),(-8.75,0.42),(-8.66,0.4),(-8.56,0.29),(-8.42,0.21),(-8.27,0.36),(-8.2,0.48),(-8.08,0.36),(-7.94,0.29),(-7.79,0.4),(-7.69,0.46),(-7.6,0.5),(-7.5,0.36),(-7.36,0.4),(-7.31,0.5),(-7.21,0.44),(-7.12,0.4),(-7.02,0.36),(-6.92,0.33),(-6.78,0.25),(-6.64,0.23),(-6.49,0.25),(-6.35,0.27),(-6.2,0.33),(-6.13,0.38),(-6.06,0.17),(-5.91,0.08),(-5.77,0.04),(-5.58,0.04),(-5.48,0.06),(-5.43,0.23),(-5.34,0.13),(-5.19,0.08),(-5.0,0.04),(-4.81,0.02),(-4.33,0.02),(-3.84,0.02),(-3.36,0),(-2.98,-0.02),(-2.74,-0.08),(-2.59,-0.06),(-2.35,-0.06),(-2.11,-0.08),(-1.87,-0.1),(-1.63,-0.11),(-1.44,-0.15),(-1.34,-0.25),(-1.25,-0.21),(-1.05,-0.13),(-0.86,-0.08),(-0.67,-0.06),(-0.43,-0.04),(-0.19,-0.02),(0,0),(0.29,-0.02),(0.53,-0.08),(0.77,-0.13),(0.97,-0.17),(1.16,-0.13),(1.26,-0.1),(1.4,-0.02),(1.54,-0.1),(1.74,-0.13),(1.93,-0.19),(2.07,-0.13),(2.22,-0.06),(2.36,0),(5,0)]
CR_MN = [(-10,0),(-9.62,0.02),(-9.14,0.04),(-8.85,0.06),(-8.66,0.04),(-8.22,0.08),(-7.94,0.04),(-7.69,0.06),(-7.21,0.04),(-6.73,0.04),(-6.25,0.08),(-6.11,0.1),(-5.77,0.04),(-5.29,0.02),(-3.36,0.02),(-3.12,0.06),(-2.88,0.1),(-2.69,0.15),(-2.59,0.17),(-2.4,0.23),(-2.21,0.21),(-2.02,0.15),(-1.82,0.13),(-1.63,0.1),(-1.39,0.06),(-1.15,0.02),(-0.67,0),(0,0),(0.29,-0.02),(0.49,-0.1),(0.68,-0.25),(0.77,-0.17),(0.97,-0.31),(1.16,-0.21),(1.35,-0.13),(1.54,-0.25),(1.74,-0.33),(1.93,-0.42),(2.03,-0.29),(2.12,-0.1),(2.22,-0.04),(2.36,0),(5,0)]
CR_TOT = [(-10,0),(-9.5,0.01),(-8.5,0.02),(-7.0,0.02),(-5.0,0.01),(-3.0,0),(-0.5,-0.01),(0,0),(0.5,-0.03),(1.2,-0.06),(1.9,-0.1),(2.2,-0.05),(2.4,0),(5,0)]

NB_NN = [(-10,0.03),(-9.86,0.09),(-9.76,0.28),(-9.67,0.05),(-9.57,-0.03),(-9.43,-0.01),(-9.14,-0.01),(-8.95,0.05),(-8.8,0.11),(-8.75,0.2),(-8.66,0.22),(-8.61,0.28),(-8.56,0.2),(-8.49,0.34),(-8.42,0.24),(-8.32,0.36),(-8.22,0.38),(-8.18,0.28),(-8.1,0.16),(-8.03,0.32),(-7.94,0.3),(-7.84,0.38),(-7.74,0.32),(-7.65,0.26),(-7.55,0.41),(-7.48,0.28),(-7.43,0.43),(-7.41,0.18),(-7.31,0.39),(-7.21,0.45),(-7.16,0.47),(-7.12,0.41),(-7.02,0.38),(-6.95,0.45),(-6.83,0.38),(-6.68,0.34),(-6.54,0.3),(-6.4,0.22),(-6.25,0.18),(-6.01,0.2),(-5.87,0.24),(-5.77,0.3),(-5.67,0.3),(-5.58,0.2),(-5.48,0.11),(-5.36,0.05),(-5.24,0.11),(-5.1,0.16),(-5.02,0.26),(-4.9,0.2),(-4.81,0.11),(-4.71,0.05),(-4.52,0.05),(-4.33,0.09),(-4.09,0.07),(-3.84,0.03),(-3.6,0.01),(-3.36,-0.01),(-3.12,-0.03),(-2.88,-0.04),(-2.59,-0.03),(-2.31,0),(-2.11,-0.01),(-1.87,-0.05),(-1.63,-0.07),(-1.39,-0.06),(-1.15,-0.07),(-0.91,-0.06),(-0.67,-0.03),(-0.52,-0.1),(-0.45,-0.18),(-0.33,-0.12),(-0.19,-0.05),(-0.04,-0.1),(0.03,-0.16),(0.1,-0.08),(0.29,-0.05),(0.53,-0.03),(0.77,0),(2.22,0),(2.31,-0.08),(2.41,-0.07),(2.51,-0.1),(2.7,-0.12),(2.94,-0.14),(3.08,-0.24),(3.23,-0.2),(3.42,-0.18),(3.66,-0.14),(3.9,-0.12),(4.14,-0.16),(4.34,-0.18),(4.48,-0.24),(4.62,-0.16),(4.82,-0.07),(4.96,0.01),(5,0.01)]
NB_MN = [(-10,-0.08),(-9.86,0.05),(-9.76,0.24),(-9.67,0.05),(-9.57,-0.01),(-9.14,-0.01),(-8.95,-0.03),(-8.8,-0.05),(-8.66,-0.03),(-8.51,-0.05),(-8.44,-0.08),(-8.37,0.01),(-8.18,0.03),(-7.94,0.03),(-7.69,0.01),(-7.45,-0.01),(-7.26,-0.07),(-7.12,-0.03),(-6.97,-0.05),(-6.73,0.01),(-6.25,0.01),(-6.01,-0.03),(-5.77,-0.05),(-5.53,-0.08),(-5.39,-0.07),(-5.29,-0.12),(-5.14,-0.2),(-5.07,-0.31),(-5.0,-0.22),(-4.86,-0.08),(-4.71,-0.01),(-4.57,0.16),(-4.47,0.07),(-4.33,0.09),(-4.09,0.07),(-3.84,0.03),(-3.6,0.01),(-3.36,-0.01),(-3.12,0.01),(-2.88,0.05),(-2.59,0.07),(-2.31,0.05),(-2.11,0.05),(-1.92,0.11),(-1.78,0.01),(-1.63,-0.03),(-1.39,-0.01),(-1.15,0.01),(-0.91,0.03),(-0.67,0.07),(-0.52,0.05),(-0.33,0.03),(0,0.01),(0.29,0.01),(0.77,0),(2.22,0.01),(2.46,0.01),(2.6,-0.05),(2.8,-0.08),(2.94,-0.18),(3.04,-0.33),(3.18,-0.41),(3.42,-0.47),(3.66,-0.47),(3.9,-0.43),(4.05,-0.35),(4.19,-0.33),(4.38,-0.41),(4.53,-0.41),(4.62,-0.31),(4.77,-0.18),(4.91,-0.03),(5,0)]
NB_TOT = [(-10,0),(-9.7,0.01),(-9.0,0),(-5.0,0),(-2.0,0),(0,-0.01),(2.2,0),(2.5,-0.03),(3.0,-0.06),(4.0,-0.08),(4.6,-0.1),(4.9,-0.05),(5,0)]

METALS = ["Au", "Sc", "Ag", "Pd", "Pt", "Y", "Cd", "Hf", "Zr", "Ti", "Rh", "Cr", "Nb"]
SERIES_NAMES = ["N-N", "M-N", "Total"]
X_TICKS = [-10, -8, -6, -4, -2, 0, 2, 4]
Y_TICKS = [-0.5, 0.0, 0.5]

PANELS = [
    (AU_NN, AU_MN, AU_TOT), (SC_NN, SC_MN, SC_TOT), (AG_NN, AG_MN, AG_TOT),
    (PD_NN, PD_MN, PD_TOT), (PT_NN, PT_MN, PT_TOT), (Y_NN, Y_MN, Y_TOT),
    (CD_NN, CD_MN, CD_TOT), (HF_NN, HF_MN, HF_TOT), (ZR_NN, ZR_MN, ZR_TOT),
    (TI_NN, TI_MN, TI_TOT), (RH_NN, RH_MN, RH_TOT), (CR_NN, CR_MN, CR_TOT),
    (NB_NN, NB_MN, NB_TOT),
]

# ---------------- styling ----------------
W, H = 1206, 1529
ML, MR, MT, MB = 167, 2, 102, 93
PLOT_H = H - MT - MB
FONT = "DejaVu Sans"
STYLES = [
    dict(color="#0000ff", width=2.6, dash="solid"),
    dict(color="#008000", width=2.6, dash="10px,5px"),
    dict(color="#bf00bf", width=2.6, dash="3px,6px"),
]


def fmt(v, dec):
    s = f"{abs(v):.{dec}f}"
    return ("\u2212" + s) if v < 0 else s


n = len(METALS)
fig = make_subplots(rows=n, cols=1, shared_xaxes=True, vertical_spacing=17 / PLOT_H)

for i, (metal, series) in enumerate(zip(METALS, PANELS)):
    r = i + 1
    for data, name, style in zip(series, SERIES_NAMES, STYLES):
        fig.add_trace(
            go.Scatter(
                x=[p[0] for p in data], y=[p[1] for p in data], mode="lines",
                name=name, legendgroup=name, showlegend=(i == 0), line=style,
            ),
            row=r, col=1,
        )
    fig.add_vline(x=0, row=r, col=1, line=dict(color="black", width=2.5, dash="11px,5px"), layer="above")
    suffix = "" if r == 1 else str(r)
    fig.add_annotation(
        text=f"<b>{metal}N<sub>6</sub></b>", xref=f"x{suffix} domain", yref=f"y{suffix} domain",
        x=0.988, y=0.78, xanchor="right", yanchor="middle", showarrow=False,
        font=dict(family=FONT, size=20, color="black"),
    )
    fig.update_yaxes(
        row=r, col=1, range=[-0.5, 0.5], tickvals=Y_TICKS,
        ticktext=[f"<b>{fmt(v, 1)}</b>" for v in Y_TICKS],
        ticks="outside", ticklen=8, tickwidth=1.5, tickcolor="black",
        showline=True, mirror=True, linecolor="black", linewidth=2.5,
        showgrid=False, zeroline=False, tickfont=dict(family=FONT, size=24, color="black"),
    )
    fig.update_xaxes(
        row=r, col=1, range=[-10, 5], showline=True, mirror=True, linecolor="black",
        linewidth=2.5, showgrid=False, zeroline=False,
        ticks="outside" if r == n else "", ticklen=8, tickwidth=1.5, tickcolor="black",
        tickvals=X_TICKS, ticktext=[f"<b>{fmt(v, 0)}</b>" for v in X_TICKS],
        showticklabels=(r == n), tickfont=dict(family=FONT, size=24, color="black"),
    )

fig.add_annotation(
    text="<b>-pCOHP</b>", xref="paper", yref="paper", x=(30 - ML) / (W - ML - MR),
    y=(H - MB - 765) / PLOT_H, textangle=-90, showarrow=False, xanchor="center", yanchor="middle",
    font=dict(family=FONT, size=30, color="black"),
)
fig.add_annotation(
    text="<b>Energy (eV)</b>", xref="paper", yref="paper", x=(670 - ML) / (W - ML - MR),
    y=(H - MB - 1508) / PLOT_H, showarrow=False, xanchor="center", yanchor="middle",
    font=dict(family=FONT, size=31, color="black"),
)

fig.update_layout(
    width=W, height=H, autosize=False,
    margin=dict(l=ML, r=MR, t=MT, b=MB),
    paper_bgcolor="white", plot_bgcolor="white",
    font=dict(family=FONT, color="black"),
    title=dict(
        text="<b>-pCOHP: only mechanically stable MN<sub>6</sub></b>",
        xref="container", yref="container", x=670 / W, y=1 - 55 / H,
        xanchor="center", yanchor="middle", font=dict(family=FONT, size=37, color="black"),
    ),
    legend=dict(
        x=1.002, y=(H - MB - 4) / PLOT_H, xanchor="right", yanchor="top",
        bgcolor="white", bordercolor="#cccccc", borderwidth=1,
        font=dict(family=FONT, size=19, color="black", weight="bold"),
        itemwidth=60, tracegroupgap=0,
    ),
    showlegend=True,
)

fig.write_html("out.html")
